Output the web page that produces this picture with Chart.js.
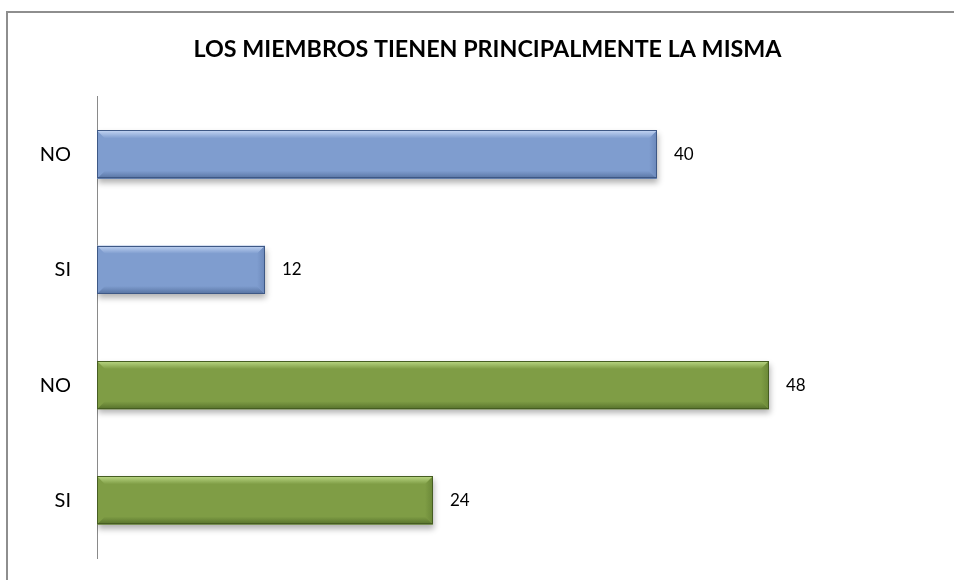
<!DOCTYPE html>
<html>
<head>
<meta charset="utf-8">
<script src="https://cdn.jsdelivr.net/npm/chart.js@4.4.1/dist/chart.umd.min.js"></script>
<style>
  html, body { margin: 0; padding: 0; background: #ffffff; overflow: hidden; }
  #wrap { width: 954px; height: 580px; position: relative; }
</style>
</head>
<body>
<div id="wrap"><canvas id="c" width="954" height="580"></canvas></div>
<script>
// ---- data ----
const titleText = 'LOS MIEMBROS TIENEN PRINCIPALMENTE LA MISMA';
const categories = ['NO', 'SI', 'NO', 'SI'];
const values = [40, 12, 48, 24];
const axisMax = 60;

// ---- styles (per bar group) ----
const blue = { main: '#7f9dcf', light: '#c3d5f3', right: '#6b88ba', bottom: '#55719f', edge: '#3e5885' };
const green = { main: '#7f9d45', light: '#bcd986', right: '#6a8737', bottom: '#55702b', edge: '#465d22' };
const barStyles = [blue, blue, green, green];

const bevelPlugin = {
  id: 'bevel',
  beforeDraw(chart) {
    const ctx = chart.ctx;
    ctx.save();
    ctx.strokeStyle = '#8e8e8e';
    ctx.lineWidth = 2;
    ctx.beginPath();
    ctx.moveTo(7, 580);
    ctx.lineTo(7, 12);
    ctx.lineTo(954, 12);
    ctx.stroke();
    ctx.restore();
  },
  beforeDatasetsDraw(chart) {
    const ctx = chart.ctx;
    ctx.save();
    ctx.shadowColor = 'rgba(0,0,0,0.30)';
    ctx.shadowBlur = 6;
    ctx.shadowOffsetX = 1;
    ctx.shadowOffsetY = 4;
  },
  afterDatasetsDraw(chart) {
    const ctx = chart.ctx;
    ctx.restore();
    const meta = chart.getDatasetMeta(0);
    meta.data.forEach((el, i) => {
      const p = el.getProps(['x', 'y', 'base', 'height'], true);
      const s = barStyles[i];
      const x0 = p.base, x1 = p.x, yt = p.y - p.height / 2, yb = p.y + p.height / 2;
      const b = 8;
      ctx.save();
      // top band
      let g = ctx.createLinearGradient(0, yt, 0, yt + b);
      g.addColorStop(0, s.light);
      g.addColorStop(1, s.main);
      ctx.fillStyle = g;
      ctx.beginPath();
      ctx.moveTo(x0, yt); ctx.lineTo(x1, yt); ctx.lineTo(x1 - b, yt + b); ctx.lineTo(x0 + b, yt + b); ctx.closePath();
      ctx.fill();
      // bottom band
      g = ctx.createLinearGradient(0, yb - b, 0, yb);
      g.addColorStop(0, s.main);
      g.addColorStop(1, s.bottom);
      ctx.fillStyle = g;
      ctx.beginPath();
      ctx.moveTo(x0, yb); ctx.lineTo(x1, yb); ctx.lineTo(x1 - b, yb - b); ctx.lineTo(x0 + b, yb - b); ctx.closePath();
      ctx.fill();
      // right band
      g = ctx.createLinearGradient(x1 - b, 0, x1, 0);
      g.addColorStop(0, s.main);
      g.addColorStop(1, s.right);
      ctx.fillStyle = g;
      ctx.beginPath();
      ctx.moveTo(x1, yt); ctx.lineTo(x1, yb); ctx.lineTo(x1 - b, yb - b); ctx.lineTo(x1 - b, yt + b); ctx.closePath();
      ctx.fill();
      // outline
      ctx.strokeStyle = s.edge;
      ctx.lineWidth = 1;
      ctx.strokeRect(Math.round(x0) + 0.5, Math.round(yt) + 0.5, Math.round(x1 - x0) - 1, Math.round(yb - yt) - 1);
      // value label
      ctx.fillStyle = '#000000';
      ctx.font = '17px Lato';
      ctx.textAlign = 'left';
      ctx.textBaseline = 'middle';
      ctx.fillText(String(values[i]), x1 + 17, p.y);
      ctx.restore();
    });
  }
};

new Chart(document.getElementById('c'), {
  type: 'bar',
  data: {
    labels: categories,
    datasets: [{
      data: values,
      backgroundColor: barStyles.map(s => s.main),
      borderWidth: 0,
      categoryPercentage: 1.0,
      barPercentage: 0.42
    }]
  },
  options: {
    indexAxis: 'y',
    responsive: false,
    animation: false,
    layout: { padding: { left: 38, right: 17, top: 0, bottom: 22 } },
    plugins: {
      legend: { display: false },
      tooltip: { enabled: false },
      title: {
        display: true,
        text: titleText,
        color: '#000000',
        font: { family: 'Lato', size: 23.3, weight: 'bold' },
        padding: { top: 35, bottom: 34 }
      }
    },
    scales: {
      x: { display: false, min: 0, max: axisMax },
      y: {
        afterFit(scale) { scale.width = 59; scale.paddingTop = 0; scale.paddingBottom = 0; },
        grid: { display: false, drawTicks: false },
        border: { display: true, color: '#8a8a8a', width: 1 },
        ticks: { color: '#000000', font: { family: 'Lato', size: 20 }, padding: 26 }
      }
    }
  },
  plugins: [bevelPlugin]
});
</script>
</body>
</html>
